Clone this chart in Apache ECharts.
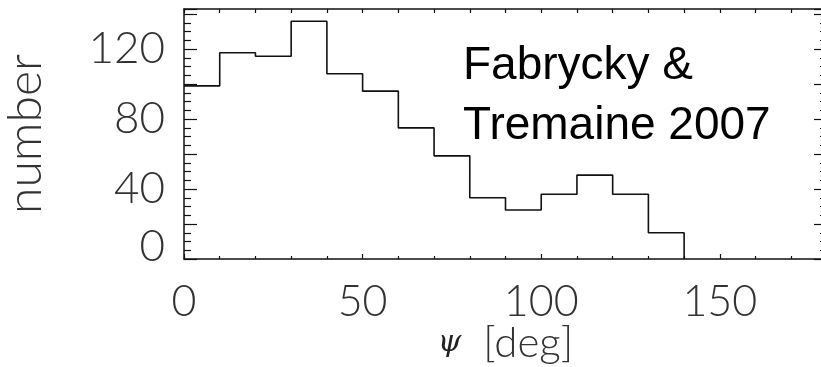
<!DOCTYPE html>
<html>
<head>
<meta charset="utf-8">
<script src="https://cdn.jsdelivr.net/npm/echarts@6/dist/echarts.min.js"></script>
<style>
html,body{margin:0;padding:0;background:#fff;}
#c{width:821px;height:367px;}
</style>
</head>
<body>
<div id="c"></div>
<script>
// Histogram bins (degrees) and counts
var binEdges = [0, 10, 20, 30, 40, 50, 60, 70, 80, 90, 100, 110, 120, 130, 140];
var counts   = [99, 118, 116, 136, 106, 96, 75, 59, 35, 28, 37, 48, 37, 15];
var yLabelValues = [0, 40, 80, 120];
var xLabelValues = [0, 50, 100, 150];
var annotationLines = ['Fabrycky &', 'Tremaine 2007'];

var stepData = [];
for (var i = 0; i < counts.length; i++) stepData.push([binEdges[i], counts[i]]);
stepData.push([binEdges[binEdges.length - 1], 0]);

var LABEL_FONT = 'Lato';
var AX = '#111';

var chart = echarts.init(document.getElementById('c'), null, {renderer: 'canvas'});
function common() {
  return {
    axisLine: {show: true, onZero: false, lineStyle: {color: AX, width: 1.5}},
    splitLine: {show: false},
    nameMoveOverlap: false
  };
}
chart.setOption({
  animation: false,
  backgroundColor: '#fff',
  grid: {left: 184, right: -6, top: 9, bottom: 108, containLabel: false, outerBoundsMode: 'none'},
  xAxis: [
    Object.assign({
      type: 'value', position: 'bottom', min: 0, max: 180, interval: 50,
      axisTick: {show: true, inside: true, length: 5, lineStyle: {color: AX, width: 1.2}},
      minorTick: {show: true, splitNumber: 5, length: 3, lineStyle: {color: AX, width: 1.2}},
      axisLabel: {
        margin: 22, fontFamily: LABEL_FONT, fontWeight: 300, fontSize: 43, color: '#333',
        formatter: function (v) { return xLabelValues.indexOf(v) >= 0 ? String(v) : ''; }
      },
      name: '{p|\u03C8}{d|[deg]}', nameLocation: 'middle', nameGap: 63,
      nameTextStyle: {
        rich: {
          p: {fontFamily: 'DejaVu Serif', fontStyle: 'italic', fontSize: 30, color: '#222', padding: [0, 22, 0, 0]},
          d: {fontFamily: LABEL_FONT, fontWeight: 300, fontSize: 42, color: '#333'}
        }
      }
    }, common()),
    Object.assign({
      type: 'value', position: 'top', min: 0, max: 180, interval: 50,
      axisTick: {show: true, inside: true, length: 4, lineStyle: {color: AX, width: 1.2}},
      minorTick: {show: true, splitNumber: 5, length: 4, lineStyle: {color: AX, width: 1.2}},
      axisLabel: {show: false}
    }, common())
  ],
  yAxis: [
    Object.assign({
      type: 'value', position: 'left', min: 0, max: 143, interval: 20,
      axisTick: {show: true, inside: true, length: 13, lineStyle: {color: AX, width: 1.2}},
      minorTick: {show: true, splitNumber: 4, length: 7, lineStyle: {color: AX, width: 1.2}},
      axisLabel: {
        margin: 19, fontFamily: LABEL_FONT, fontWeight: 300, fontSize: 44, color: '#333',
        formatter: function (v) {
          if (yLabelValues.indexOf(v) < 0) return '';
          return v === 0 ? '{z|0}' : String(v);
        },
        rich: {z: {fontFamily: LABEL_FONT, fontWeight: 300, fontSize: 44, color: '#333', padding: [0, 0, 24, 0]}}
      },
      name: 'number', nameLocation: 'middle', nameGap: 134, nameRotate: 90,
      nameTextStyle: {fontFamily: LABEL_FONT, fontWeight: 300, fontSize: 48, color: '#333'}
    }, common()),
    Object.assign({
      type: 'value', position: 'right', min: 0, max: 143, interval: 20,
      axisTick: {show: true, inside: true, length: 13, lineStyle: {color: AX, width: 1.2}},
      minorTick: {show: true, splitNumber: 4, length: 7, lineStyle: {color: AX, width: 1.2}},
      axisLabel: {show: false}
    }, common())
  ],
  series: [{
    type: 'line', xAxisIndex: 0, yAxisIndex: 0, step: 'end', symbol: 'none',
    data: stepData, clip: false,
    lineStyle: {color: '#111', width: 1.6}
  }],
  graphic: [
    {type: 'text', left: 463, top: 43, z: 100,
     style: {text: annotationLines[0], font: '46px "Liberation Sans", Arial, sans-serif', fill: '#000'}},
    {type: 'text', left: 463, top: 103, z: 100,
     style: {text: annotationLines[1], font: '46px "Liberation Sans", Arial, sans-serif', fill: '#000'}}
  ]
});
</script>
</body>
</html>
